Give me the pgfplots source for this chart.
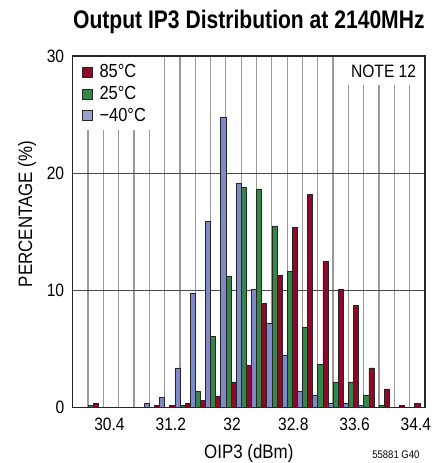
\documentclass[border=0pt]{standalone}
\usepackage{fontspec}
\setmainfont{Liberation Sans}[FakeStretch=0.87]
\newfontfamily\titlefont{Liberation Sans}[FakeStretch=0.83]
\usepackage{pgfplots}
\pgfplotsset{compat=1.18}
\definecolor{cred}{RGB}{142,8,42}
\definecolor{cgreen}{RGB}{52,135,72}
\definecolor{cblue}{RGB}{128,136,200}
\pgfplotsset{sq legend/.style={legend image code/.code={\node[draw=black!85, fill=#1, line width=0.6bp, minimum width=10bp, minimum height=10bp, inner sep=0pt, outer sep=0pt] at (5bp,0bp) {};}}}
\begin{document}
\begin{tikzpicture}
\useasboundingbox (-72.7bp,-55.3bp) rectangle (365.3bp,407.7bp);
\begin{axis}[
  scale only axis, width=352.3bp, height=351.7bp,
  xmin=29.9, xmax=34.5, ymin=0, ymax=30,
  xtick={30.4,31.2,32,32.8,33.6,34.4},
  xticklabels={30.4,31.2,32,32.8,33.6,34.4},
  minor xtick={30.1,30.3,30.5,30.7,30.9,31.1,31.3,31.5,31.7,31.9,32.1,32.3,32.5,32.7,32.9,33.1,33.3,33.5,33.7,33.9,34.1,34.3},
  ytick={0,10,20,30}, yticklabels={0,10,20,30},
  major tick length=0pt, minor tick length=0pt,
  xminorgrids, ymajorgrids,
  minor x grid style={black!40, line width=1.2bp},
  major y grid style={black!70, line width=0.7bp},
  axis line style={black!85, line width=1.2bp},
  ticklabel style={font=\fontsize{18}{20}\selectfont},
  xticklabel style={yshift=-7bp, xshift=-1.5bp},
  yticklabel style={xshift=-5bp},
  xlabel={OIP3 (dBm)}, ylabel={PERCENTAGE (\%)},
  label style={font=\fontsize{19.5}{22}\selectfont},
  xlabel style={at={(axis description cs:0.5,-0.1439)}, anchor=base},
  ylabel style={at={(axis description cs:-0.1155,0.551)}, anchor=base},
  title={\titlefont\bfseries Output IP3 Distribution at 2140MHz},
  title style={at={(axis description cs:0.5,1.062)}, anchor=base, font=\fontsize{25.5}{28}\selectfont},
  legend style={at={(axis description cs:0.003,0.997)}, anchor=north west, draw=none, fill=white,
    inner xsep=8.5bp, inner ysep=6bp, row sep=4bp, font=\fontsize{19}{21}\selectfont,
    nodes={inner sep=1.5bp}, column sep=5bp},
  legend cell align=left,
]
\addplot[ybar, bar width=0.0667, bar shift=0, fill=cred, draw=black!85, line width=0.6bp, sq legend=cred] coordinates {
(30.2,0.4) (31.0,0.2) (31.2,0.2) (31.4,0.4) (31.6,0.6) (31.8,1.0) (32.0,2.2) (32.2,3.6)
(32.4,8.9) (32.6,11.3) (32.8,15.4) (33.0,18.2) (33.2,12.5) (33.4,10.1) (33.6,8.7)
(33.8,3.4) (34.0,1.6) (34.2,0.2) (34.4,0.4)};
\addlegendentry{85°C}
\addplot[ybar, bar width=0.0667, bar shift=-0.0667, fill=cgreen, draw=black!85, line width=0.6bp, sq legend=cgreen] coordinates {
(30.2,0.2) (31.4,0.2) (31.6,1.4) (31.8,6.1) (32.0,11.2) (32.2,18.8) (32.4,18.6)
(32.6,15.5) (32.8,11.6) (33.0,6.9) (33.2,3.7) (33.4,2.2) (33.6,2.2) (33.8,1.1) (34.0,0.2)};
\addlegendentry{25°C}
\addplot[ybar, bar width=0.0667, bar shift=0.0667, fill=cblue, draw=black!85, line width=0.6bp, sq legend={cblue!80!white}] coordinates {
(30.8,0.4) (31.0,0.9) (31.2,3.4) (31.4,9.8) (31.6,15.9) (31.8,24.8) (32.0,19.1)
(32.2,10.1) (32.4,7.2) (32.6,4.5) (32.8,1.4) (33.0,1.1) (33.2,0.4) (33.4,0.4) (33.6,0.2)};
\addlegendentry{−40°C}
\node[anchor=north east, fill=white, inner xsep=8bp, minimum height=28bp, font=\fontsize{18}{20}\selectfont]
  at (axis description cs:0.998,0.998) {NOTE 12};
\end{axis}
\node[anchor=base east, font=\fontsize{11}{12}\selectfont] at ([xshift=-2bp,yshift=-50.6bp]current axis.south east) {55881 G40};
\end{tikzpicture}
\end{document}
